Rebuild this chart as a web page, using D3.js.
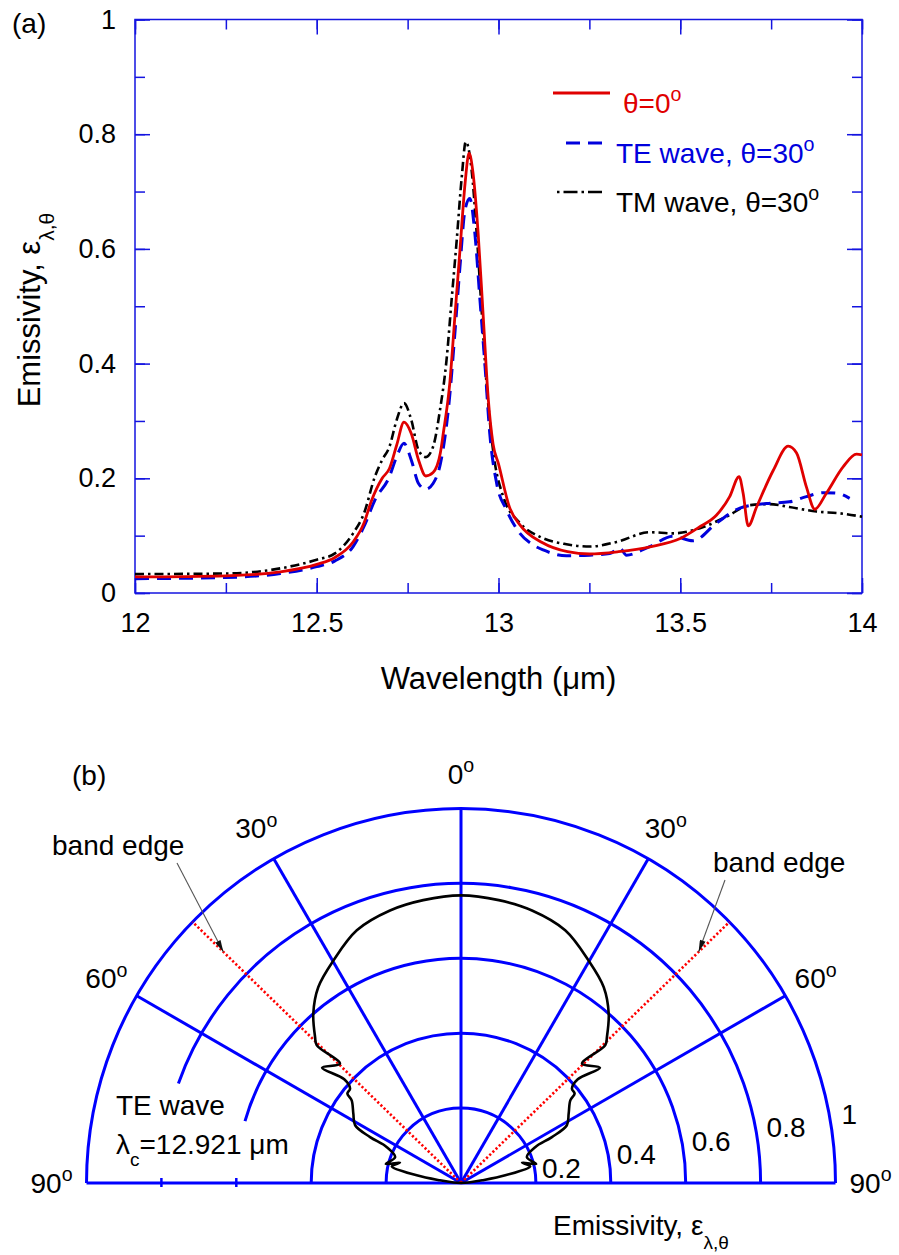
<!DOCTYPE html>
<html>
<head>
<meta charset="utf-8">
<script src="https://cdn.jsdelivr.net/npm/d3@7"></script>
<style>
body { margin: 0; background: #fff; }
svg { font-family: "Liberation Sans", Arial, sans-serif; }
</style>
</head>
<body>
<svg id="fig" width="899" height="1255"></svg>
<script>
// ---- (a) spectral emissivity ----
var normLambda = [12.0, 12.25, 12.4, 12.5, 12.55, 12.6, 12.63, 12.65, 12.68, 12.7, 12.72, 12.74, 12.76, 12.78, 12.8, 12.82,
    12.84, 12.848, 12.866, 12.88, 12.894, 12.908, 12.919, 12.93, 12.944, 12.958, 12.972, 12.985, 13.0, 13.03, 13.06, 13.12,
    13.19, 13.25, 13.33, 13.42, 13.5, 13.55, 13.6, 13.636, 13.662, 13.673, 13.687, 13.71, 13.756, 13.797, 13.82, 13.847,
    13.87, 13.902, 13.948, 13.985, 14.0];
var normEmis = [0.028, 0.030, 0.037, 0.050, 0.062, 0.089, 0.122, 0.160, 0.200, 0.217, 0.258, 0.298, 0.278, 0.232, 0.204, 0.210,
    0.244, 0.278, 0.366, 0.482, 0.598, 0.714, 0.767, 0.732, 0.627, 0.482, 0.337, 0.260, 0.225, 0.150, 0.118, 0.088,
    0.072, 0.068, 0.072, 0.081, 0.095, 0.114, 0.136, 0.168, 0.203, 0.174, 0.117, 0.150, 0.214, 0.256, 0.244, 0.185,
    0.146, 0.174, 0.220, 0.242, 0.241];

var teLambda = [12.0, 12.25, 12.4, 12.5, 12.55, 12.6, 12.63, 12.66, 12.7, 12.72, 12.74, 12.76, 12.78, 12.8, 12.82, 12.84,
    12.866, 12.88, 12.894, 12.908, 12.921, 12.935, 12.949, 12.963, 12.976, 12.995, 13.022, 13.059, 13.095, 13.123, 13.187,
    13.251, 13.306, 13.334, 13.352, 13.416, 13.48, 13.535, 13.6, 13.664, 13.737, 13.8, 13.847, 13.893, 13.93, 13.966];
var teEmis = [0.025, 0.027, 0.034, 0.046, 0.056, 0.081, 0.116, 0.162, 0.203, 0.238, 0.261, 0.232, 0.191, 0.181, 0.191, 0.225,
    0.345, 0.453, 0.569, 0.668, 0.688, 0.627, 0.511, 0.395, 0.278, 0.191, 0.145, 0.104, 0.084, 0.075, 0.065,
    0.066, 0.069, 0.078, 0.066, 0.081, 0.099, 0.091, 0.122, 0.148, 0.156, 0.159, 0.168, 0.175, 0.174, 0.165];

var tmLambda = [12.0, 12.25, 12.4, 12.5, 12.55, 12.6, 12.63, 12.66, 12.68, 12.7, 12.72, 12.74, 12.76, 12.78, 12.8, 12.82,
    12.839, 12.857, 12.871, 12.885, 12.899, 12.91, 12.926, 12.94, 12.953, 12.967, 12.985, 13.013, 13.059, 13.114, 13.187,
    13.251, 13.325, 13.416, 13.48, 13.554, 13.627, 13.69, 13.746, 13.8, 13.875, 13.939, 14.0];
var tmEmis = [0.033, 0.034, 0.043, 0.058, 0.069, 0.104, 0.139, 0.203, 0.232, 0.255, 0.302, 0.331, 0.302, 0.249, 0.237, 0.255,
    0.319, 0.406, 0.511, 0.615, 0.726, 0.787, 0.738, 0.627, 0.499, 0.366, 0.249, 0.168, 0.122, 0.098, 0.085,
    0.081, 0.089, 0.106, 0.104, 0.113, 0.133, 0.153, 0.155, 0.150, 0.142, 0.139, 0.133];

var xTickValues = [12, 12.5, 13, 13.5, 14];
var xTickLabels = ['12', '12.5', '13', '13.5', '14'];
var yTickValues = [0, 0.2, 0.4, 0.6, 0.8, 1];
var yTickLabels = ['0', '0.2', '0.4', '0.6', '0.8', '1'];

// ---- (b) angular emissivity, TE wave at 12.921 um (one half, traced from the normal outwards) ----
var polarTheta = [0, 7.6, 14.6, 22.4, 29.8, 36.1, 41.1, 45.0, 46.3, 45.4, 50.3, 48.4, 49.6, 51.8, 52.9, 57.2, 61.4,
    63.2, 64.2, 68.5, 75.8, 71.5, 76.5, 80.1, 82.7, 86.0, 90];
var polarEmis = [0.768, 0.762, 0.752, 0.730, 0.685, 0.647, 0.600, 0.551, 0.533, 0.454, 0.482, 0.417, 0.389, 0.386, 0.366, 0.342, 0.322,
    0.272, 0.220, 0.189, 0.207, 0.172, 0.190, 0.120, 0.057, 0.020, 0];
var bandEdge = 45.8;
var ringValues = [0.2, 0.4, 0.6, 0.8, 1];
var ringLabels = ['0.2', '0.4', '0.6', '0.8', '1'];
var spokeAngles = [-60, -30, 0, 30, 60];
var angleLabelValues = [-90, -60, -30, 0, 30, 60, 90];
var angleLabels = ['90', '60', '30', '0', '30', '60', '90'];


var svg = d3.select('#fig');
var axisColor = '#1414e0';
var font = '"Liberation Sans", Arial, sans-serif';

function sup(textSel, main, size) {
    textSel.append('tspan').text(main);
    textSel.append('tspan').attr('font-size', size * 0.7).attr('dy', -size * 0.42).text('o');
}

function sub(textSel, main, subText, size, shift) {
    textSel.append('tspan').text(main);
    textSel.append('tspan').attr('font-size', size * 0.68).attr('dy', shift).text(subText);
}


// ================= panel (a) =================
var x = d3.scaleLinear().domain([12, 14]).range([135, 862]);
var y = d3.scaleLinear().domain([0, 1]).range([593, 19.5]);
var pa = svg.append('g');

function tickAxis(axis, tx, ty) {
    var g = pa.append('g')
        .attr('transform', 'translate(' + tx + ',' + ty + ')')
        .call(axis)
        .attr('font-size', 27)
        .attr('font-family', font);
    g.select('.domain').remove();
    g.selectAll('.tick line').attr('stroke', axisColor).attr('stroke-width', 1.5);
    g.selectAll('.tick text').attr('fill', '#000');
    return g;
}

var xMinor = d3.range(12, 14.001, 0.25);
var yMinor = d3.range(0, 1.001, 0.1);

tickAxis(d3.axisBottom(x).tickValues(xMinor).tickSize(-10).tickFormat(''), 0, y(0));
tickAxis(d3.axisTop(x).tickValues(xMinor).tickSize(-10).tickFormat(''), 0, y(1));
tickAxis(d3.axisLeft(y).tickValues(yMinor).tickSize(-10).tickFormat(''), x(12), 0);
tickAxis(d3.axisRight(y).tickValues(yMinor).tickSize(-10).tickFormat(''), x(14), 0);

tickAxis(d3.axisBottom(x).tickValues(xTickValues).tickSize(-15).tickPadding(20)
    .tickFormat(function(d, i) { return xTickLabels[i]; }), 0, y(0));
tickAxis(d3.axisTop(x).tickValues(xTickValues).tickSize(-15).tickFormat(''), 0, y(1));
tickAxis(d3.axisLeft(y).tickValues(yTickValues).tickSize(-15).tickPadding(19)
    .tickFormat(function(d, i) { return yTickLabels[i]; }), x(12), 0);
tickAxis(d3.axisRight(y).tickValues(yTickValues).tickSize(-15).tickFormat(''), x(14), 0);

pa.append('rect')
    .attr('x', x(12)).attr('y', y(1))
    .attr('width', x(14) - x(12)).attr('height', y(0) - y(1))
    .attr('fill', 'none').attr('stroke', axisColor).attr('stroke-width', 1.5);

var line = d3.line()
    .x(function(d) { return x(d[0]); })
    .y(function(d) { return y(d[1]); })
    .curve(d3.curveMonotoneX);

var series = [
    {lambda: tmLambda, emis: tmEmis, color: '#000', dash: '9,4,2.5,4', width: 2.6},
    {lambda: teLambda, emis: teEmis, color: '#0000dd', dash: '14,8', width: 3},
    {lambda: normLambda, emis: normEmis, color: '#e00000', dash: null, width: 2.8}
];

series.forEach(function(s) {
    pa.append('path')
        .attr('d', line(d3.zip(s.lambda, s.emis)))
        .attr('fill', 'none')
        .attr('stroke', s.color)
        .attr('stroke-width', s.width)
        .attr('stroke-dasharray', s.dash);
});

// legend
var legend = [
    {text: 'θ=0', color: '#e00000', dash: null, width: 2.8, x0: 553, x1: 610, ly: 93, tx: 623},
    {text: 'TE wave, θ=30', color: '#0000dd', dash: '14,8', width: 3, x0: 566, x1: 607, ly: 143, tx: 616},
    {text: 'TM wave, θ=30', color: '#000', dash: '2.5,4,14,4', width: 2.6, x0: 557, x1: 602, ly: 192, tx: 616}
];
legend.forEach(function(l) {
    pa.append('line')
        .attr('x1', l.x0).attr('x2', l.x1).attr('y1', l.ly).attr('y2', l.ly)
        .attr('stroke', l.color).attr('stroke-width', l.width)
        .attr('stroke-dasharray', l.dash);
    var t = pa.append('text')
        .attr('x', l.tx).attr('y', l.ly + 20)
        .attr('font-size', 28).attr('fill', l.color);
    sup(t, l.text, 28);
});

pa.append('text').attr('x', 12).attr('y', 33).attr('font-size', 28).text('(a)');

pa.append('text')
    .attr('x', (x(12) + x(14)) / 2).attr('y', 689)
    .attr('font-size', 31).attr('text-anchor', 'middle')
    .text('Wavelength (μm)');

var yt = pa.append('text')
    .attr('transform', 'translate(40,310) rotate(-90)')
    .attr('font-size', 31).attr('text-anchor', 'middle');
sub(yt, 'Emissivity, ε', 'λ,θ', 31, 14);


// ================= panel (b) =================
var cx = 461, cy = 1183, R = 374.5;
var r = d3.scaleLinear().domain([0, 1]).range([0, R]);
var rad = Math.PI / 180;
var pb = svg.append('g').attr('transform', 'translate(' + cx + ',' + cy + ')');

function polarXY(deg, v) {
    return [r(v) * Math.sin(deg * rad), -r(v) * Math.cos(deg * rad)];
}

// rings (0.6 and 0.8 stop short on the left to leave room for the caption)
var leftStop = {0.6: 74, 0.8: 70.6};
ringValues.forEach(function(v) {
    var a0 = leftStop[v] || 90;
    var p = d3.path();
    p.arc(0, 0, r(v), -Math.PI / 2 - a0 * rad, 0, false);
    pb.append('path').attr('d', p.toString())
        .attr('fill', 'none').attr('stroke', '#0000ff').attr('stroke-width', 3);
    if (leftStop[v]) {
        pb.append('line')
            .attr('x1', -r(v)).attr('x2', -r(v)).attr('y1', -5).attr('y2', 4)
            .attr('stroke', '#0000ff').attr('stroke-width', 2.5);
    }
});

pb.append('line')
    .attr('x1', -r(1)).attr('x2', r(1)).attr('y1', 0).attr('y2', 0)
    .attr('stroke', '#0000ff').attr('stroke-width', 3);

spokeAngles.forEach(function(a) {
    var e = polarXY(a, 1);
    pb.append('line')
        .attr('x1', 0).attr('y1', 0).attr('x2', e[0]).attr('y2', e[1])
        .attr('stroke', '#0000ff').attr('stroke-width', 3);
});

// band edge
[-bandEdge, bandEdge].forEach(function(a) {
    var e = polarXY(a, 1);
    pb.append('line')
        .attr('x1', 0).attr('y1', 0).attr('x2', e[0]).attr('y2', e[1])
        .attr('stroke', '#ff0000').attr('stroke-width', 2.6)
        .attr('stroke-dasharray', '2.2,2.2');
});

// emissivity lobe: left half mirrored to the right
var pts = [];
for (var i = polarTheta.length - 1; i >= 0; i--) pts.push([-polarTheta[i], polarEmis[i]]);
for (var j = 1; j < polarTheta.length; j++) pts.push([polarTheta[j], polarEmis[j]]);

var radial = d3.lineRadial()
    .angle(function(d) { return d[0] * rad; })
    .radius(function(d) { return r(d[1]); })
    .curve(d3.curveCatmullRom.alpha(0.5));

pb.append('path')
    .attr('d', radial(pts))
    .attr('fill', 'none').attr('stroke', '#000').attr('stroke-width', 2.6)
    .attr('stroke-linejoin', 'round');

// labels
angleLabelValues.forEach(function(a, i) {
    var p = polarXY(a, 1);
    var k = (R + 35) / R;
    var t = pb.append('text')
        .attr('x', p[0] * k).attr('y', p[1] * k + 10)
        .attr('font-size', 28).attr('text-anchor', 'middle');
    sup(t, angleLabels[i], 28);
});

ringValues.forEach(function(v, i) {
    pb.append('text')
        .attr('x', r(v) + 6).attr('y', 8 - v * 67.5)
        .attr('font-size', 28)
        .text(ringLabels[i]);
});

svg.append('defs').append('marker')
    .attr('id', 'arrow').attr('viewBox', '0 0 12 6')
    .attr('refX', 12).attr('refY', 3)
    .attr('markerWidth', 14).attr('markerHeight', 6)
    .attr('markerUnits', 'userSpaceOnUse')
    .attr('orient', 'auto')
    .append('path').attr('d', 'M0,0L12,3L0,6Z').attr('fill', '#111');

var notes = [
    {side: -1, tx: 52, ty: 855, ax: 177, ay: 863},
    {side: 1, tx: 713, ty: 872, ax: 725, ay: 880}
];
notes.forEach(function(n) {
    var tip = polarXY(n.side * bandEdge, 0.885);
    svg.append('text').attr('x', n.tx).attr('y', n.ty).attr('font-size', 28).text('band edge');
    svg.append('line')
        .attr('x1', n.ax).attr('y1', n.ay)
        .attr('x2', cx + tip[0]).attr('y2', cy + tip[1])
        .attr('stroke', '#555').attr('stroke-width', 1.1)
        .attr('marker-end', 'url(#arrow)');
});

svg.append('text').attr('x', 72).attr('y', 785).attr('font-size', 28).text('(b)');
svg.append('text').attr('x', 116).attr('y', 1115).attr('font-size', 28).text('TE wave');
var lc = svg.append('text').attr('x', 116).attr('y', 1154).attr('font-size', 28);
lc.append('tspan').text('λ');
lc.append('tspan').attr('font-size', 19).attr('dy', 12).text('c');
lc.append('tspan').attr('dy', -12).text('=12.921 μm');

var et = svg.append('text').attr('x', 553).attr('y', 1235).attr('font-size', 28);
sub(et, 'Emissivity, ε', 'λ,θ', 28, 14);
</script>
</body>
</html>
